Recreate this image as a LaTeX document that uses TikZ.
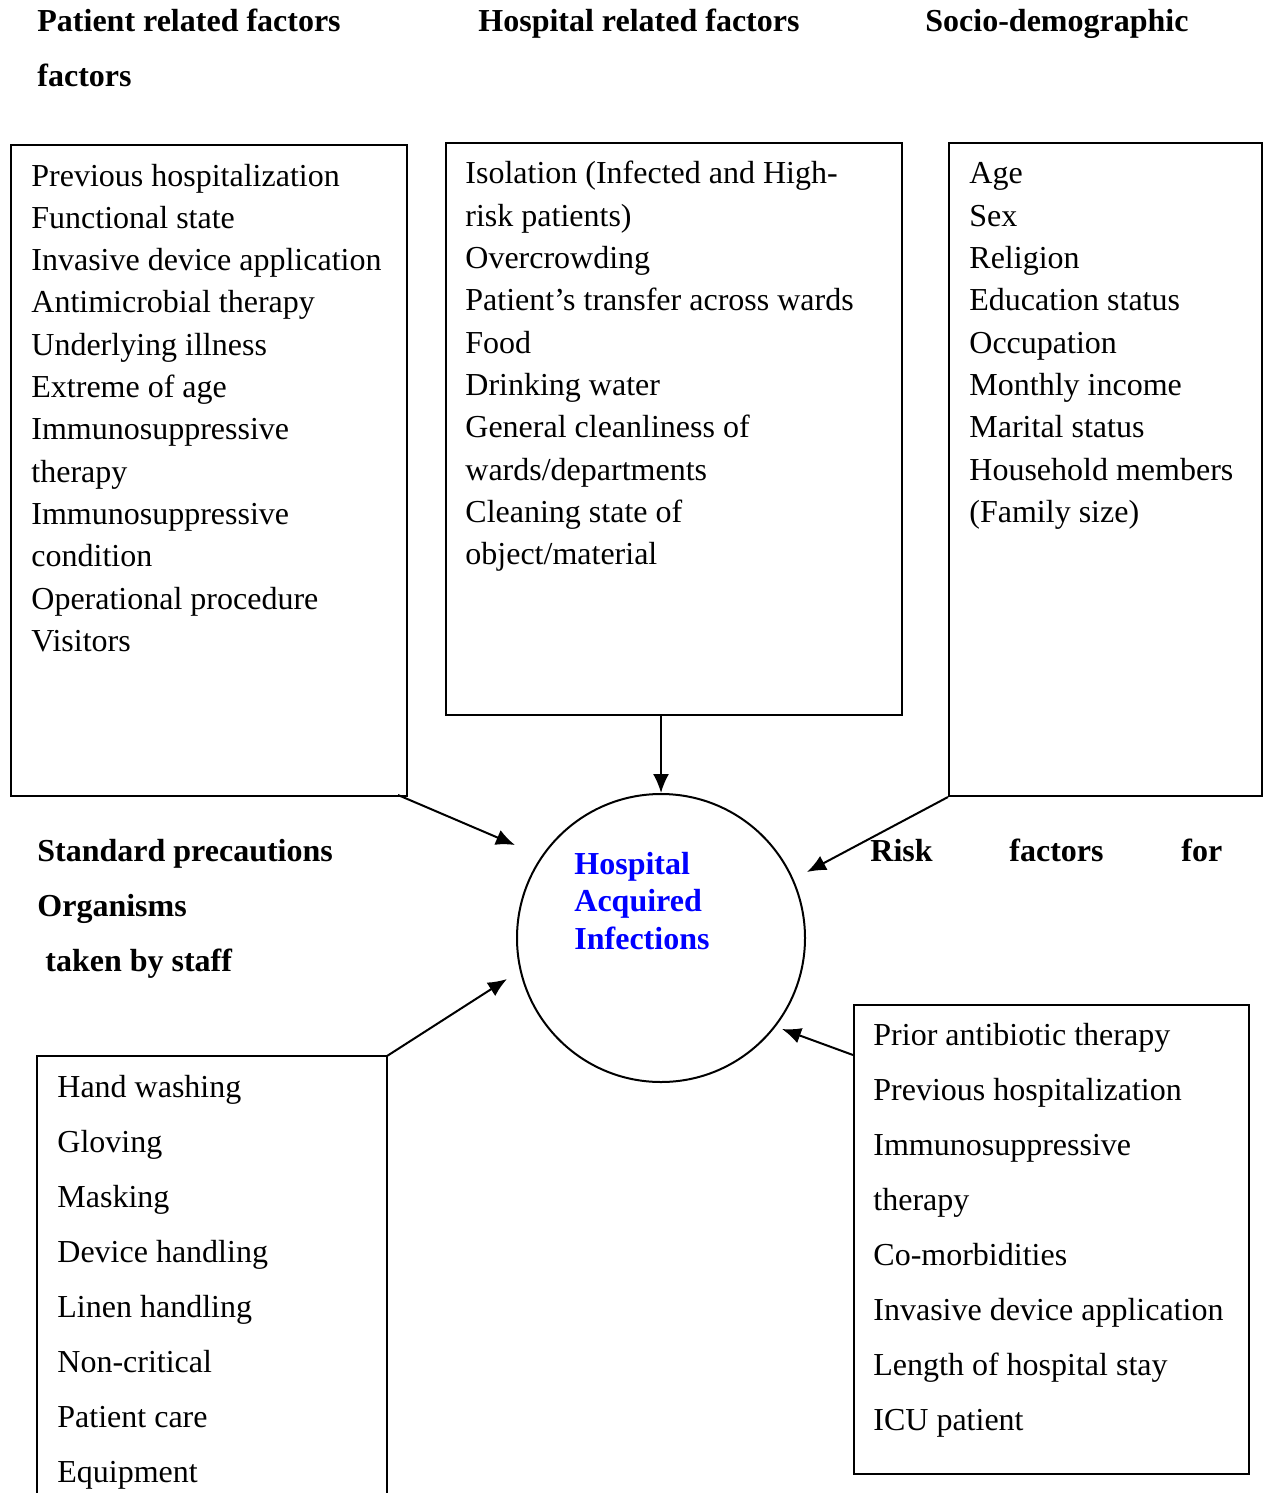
\documentclass[tikz,border=0pt]{standalone}
\usepackage{fontspec}
\setmainfont{Liberation Serif}
\usetikzlibrary{arrows.meta}
\definecolor{hblue}{RGB}{0,0,255}
\tikzset{
  boxst/.style={draw, line width=1pt, inner sep=0pt, anchor=north west},
  item/.style={inner sep=0pt, anchor=base west, font=\fontsize{16}{19}\selectfont},
  head/.style={inner sep=0pt, anchor=base west, font=\fontsize{16}{19}\selectfont\bfseries},
  hai/.style={inner sep=0pt, anchor=base west, text=hblue, font=\fontsize{16}{19}\selectfont\bfseries},
  conn/.style={line width=1pt, -{Latex[length=9.5pt,width=8pt]}}
}
\begin{document}
\begin{tikzpicture}[x=0.5pt,y=-0.5pt]
\useasboundingbox (0,0) rectangle (1264,1493);
% headings
\node[head] (h1) at (37,32) {Patient related factors};
\node[head] (h1b) at (37,87) {factors};
\node[head] (h2) at (478,32) {Hospital related factors};
\node[head] (h3) at (925,32) {Socio-demographic};
% boxes
\node[boxst, minimum width=198pt, minimum height=325.5pt] (b1) at (10,144) {};
\node[boxst, minimum width=228pt, minimum height=286pt] (b2) at (445,142) {};
\node[boxst, minimum width=156.5pt, minimum height=326.5pt] (b3) at (948,142) {};
\node[boxst, minimum width=197.5pt, minimum height=234.5pt] (b5) at (853,1004) {};
\coordinate (b4l) at (37,1493);
\coordinate (b4tl) at (37,1056);
\coordinate (b4tr) at (387,1056);
\coordinate (b4r) at (387,1493);
\draw[line width=1pt] (b4l) -- (b4tl) -- (b4tr) -- (b4r);
% box 1 text
\foreach \t [count=\i] in {Previous hospitalization, Functional state, Invasive device application, Antimicrobial therapy, Underlying illness, Extreme of age, Immunosuppressive, therapy, Immunosuppressive, condition, Operational procedure, Visitors}
  \node[item] (p\i) at (31,{186+42.3*(\i-1)}) {\t};
% box 2 text
\foreach \t [count=\i] in {Isolation (Infected and High-, risk patients), Overcrowding, Patient’s transfer across wards, Food, Drinking water, General cleanliness of, wards/departments, Cleaning state of, object/material}
  \node[item] (q\i) at (465,{184+42.3*(\i-1)}) {\t};
% box 3 text
\foreach \t [count=\i] in {Age, Sex, Religion, Education status, Occupation, Monthly income, Marital status, Household members, (Family size)}
  \node[item] (s\i) at (969,{184+42.3*(\i-1)}) {\t};
% box 4 text
\foreach \t [count=\i] in {Hand washing, Gloving, Masking, Device handling, Linen handling, Non-critical, Patient care, Equipment}
  \node[item] (w\i) at (57,{1097+55.1*(\i-1)}) {\t};
% box 5 text
\foreach \t [count=\i] in {Prior antibiotic therapy, Previous hospitalization, Immunosuppressive, therapy, Co-morbidities, Invasive device application, Length of hospital stay, ICU patient}
  \node[item] (r\i) at (873,{1045+55.1*(\i-1)}) {\t};
% middle headings
\node[head] (sp1) at (37,861) {Standard precautions};
\node[head] (sp2) at (37,916) {Organisms};
\node[head] (sp3) at (45,971) {taken by staff};
\node[head] (rk1) at (870,861) {Risk};
\node[head] (rk2) at (1009,861) {factors};
\node[head] (rk3) at (1181,861) {for};
% circle
\node[draw, circle, line width=1pt, minimum size=144pt, inner sep=0pt] (c) at (661,938) {};
\node[hai] (c1) at (574,874) {Hospital};
\node[hai] (c2) at (574,911.5) {Acquired};
\node[hai] (c3) at (574,949) {Infections};
% arrow ends
\coordinate (t1) at (515,845);
\coordinate (t3) at (807,872);
\coordinate (t4) at (507,979);
\coordinate (t5) at (782,1029);
\coordinate (s1) at (398,795);
\coordinate (s2) at (661,714);
\coordinate (s5) at (853,1055);
\draw[conn] (s1) -- (t1);
\draw[conn] (s2) -- (c.north);
\draw[conn] (b3.south west) -- (t3);
\draw[conn] (b4tr) -- (t4);
\draw[conn] (s5) -- (t5);
\end{tikzpicture}
\end{document}
